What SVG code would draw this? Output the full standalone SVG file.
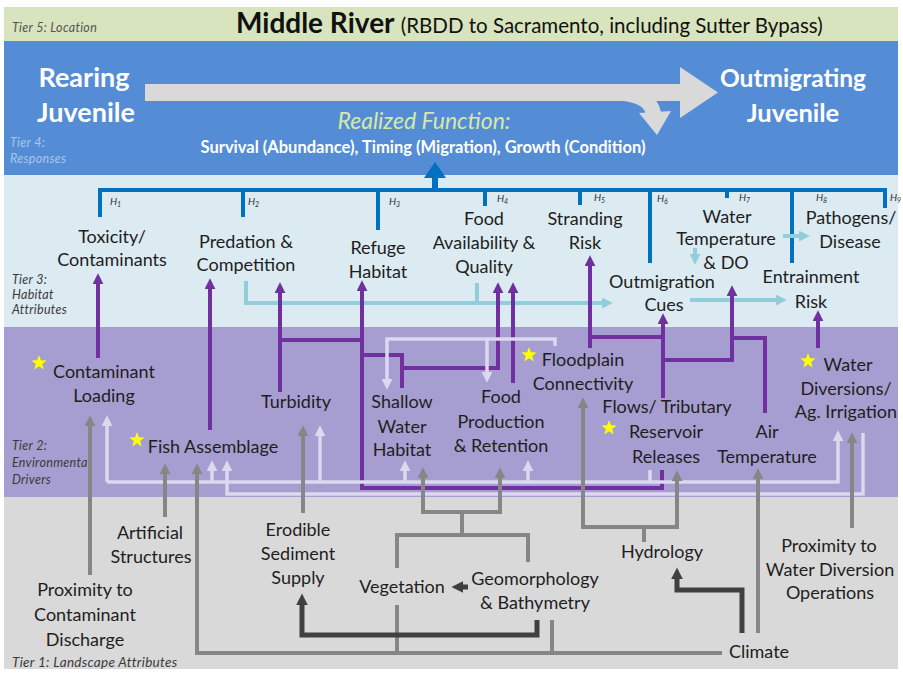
<svg xmlns="http://www.w3.org/2000/svg" width="903" height="673" viewBox="0 0 903 673">
<defs>
<style>
.t{font-family:Lato,"Liberation Sans",sans-serif;font-size:18px;fill:#1e1e1e;text-anchor:middle}
.tier{font-family:Lato,"Liberation Sans",sans-serif;font-size:12.5px;font-style:italic;fill:#3a3a3a;letter-spacing:0.3px}
.h{font-family:Lato,"Liberation Sans",sans-serif;font-size:10px;font-style:italic;fill:#333}
.hb{fill:none;stroke:#0070c0;stroke-width:4}
.pu{fill:none;stroke:#7030a0;stroke-width:4}
.lb{fill:none;stroke:#92cddc;stroke-width:4}
.lv{fill:none;stroke:#ddd8ef;stroke-width:3.5}
.gr{fill:none;stroke:#868686;stroke-width:4}
.dg{fill:none;stroke:#404040;stroke-width:5}
.star{fill:#ffff00}
</style>
<marker id="mpu" viewBox="0 0 10 10" refX="2" refY="5" markerWidth="11" markerHeight="11" markerUnits="userSpaceOnUse" orient="auto"><path d="M0,0L10,5L0,10z" fill="#7030a0"/></marker>
<marker id="mlb" viewBox="0 0 10 10" refX="2" refY="5" markerWidth="11" markerHeight="11" markerUnits="userSpaceOnUse" orient="auto"><path d="M0,0L10,5L0,10z" fill="#92cddc"/></marker>
<marker id="mlv" viewBox="0 0 10 10" refX="2" refY="5" markerWidth="11" markerHeight="11" markerUnits="userSpaceOnUse" orient="auto"><path d="M0,0L10,5L0,10z" fill="#ddd8ef"/></marker>
<marker id="mgr" viewBox="0 0 10 10" refX="2" refY="5" markerWidth="11" markerHeight="11" markerUnits="userSpaceOnUse" orient="auto"><path d="M0,0L10,5L0,10z" fill="#868686"/></marker>
<marker id="mdg" viewBox="0 0 10 10" refX="2" refY="5" markerWidth="12" markerHeight="12" markerUnits="userSpaceOnUse" orient="auto"><path d="M0,0L10,5L0,10z" fill="#404040"/></marker>
<path id="st" d="M0,-8L1.94,-2.67L7.61,-2.47L3.14,1.02L4.7,6.47L0,3.3L-4.7,6.47L-3.14,1.02L-7.61,-2.47L-1.94,-2.67Z"/>
</defs>

<g id="bands">
<rect x="4" y="7" width="894" height="34" fill="#d7e4bd"/>
<rect x="4" y="41" width="894" height="134" fill="#548dd6"/>
<rect x="4" y="175" width="894" height="152" fill="#dceaf2"/>
<rect x="4" y="327" width="894" height="170" fill="#a69ed0"/>
<rect x="4" y="497" width="894" height="172" fill="#d9d9d9"/>
</g>

<g id="tier-labels">
<text class="tier" x="12" y="32" style="fill:#555">Tier 5: Location</text>
<text class="tier" x="10" y="147" style="fill:#a9c5ec">Tier 4:</text>
<text class="tier" x="10" y="163" style="fill:#a9c5ec">Responses</text>
<text class="tier" x="12" y="284">Tier 3:</text>
<text class="tier" x="12" y="299">Habitat</text>
<text class="tier" x="12" y="314">Attributes</text>
<text class="tier" x="12" y="450">Tier 2:</text>
<text class="tier" x="12" y="467">Environmental</text>
<text class="tier" x="12" y="484">Drivers</text>
<text class="tier" x="12" y="667" style="font-size:13.5px">Tier 1: Landscape Attributes</text>
</g>

<g id="title">
<text x="236" y="33" font-family="Lato,'Liberation Sans',sans-serif" font-size="28" font-weight="bold" fill="#111">Middle River <tspan font-weight="normal" font-size="20.5">(RBDD to Sacramento, including Sutter Bypass)</tspan></text>
</g>

<g id="life-stage-arrow">
<rect x="145" y="84" width="537" height="17" fill="#d9d9d9"/>
<polygon points="680,67 718,92.5 680,118" fill="#d9d9d9"/>
<path d="M598,92 C640,92 652,100 654,116" fill="none" stroke="#d9d9d9" stroke-width="15"/>
<polygon points="639,113 671,111 657,135" fill="#d9d9d9"/>
</g>

<g id="rearing-juvenile">
<text x="84" y="87" font-family="Lato,'Liberation Sans',sans-serif" font-size="27" font-weight="bold" fill="#fff" text-anchor="middle">Rearing</text>
<text x="86" y="122" font-family="Lato,'Liberation Sans',sans-serif" font-size="27" font-weight="bold" fill="#fff" text-anchor="middle">Juvenile</text>
</g>
<g id="outmigrating-juvenile">
<text x="793" y="87" font-family="Lato,'Liberation Sans',sans-serif" font-size="24.5" font-weight="bold" fill="#fff" text-anchor="middle">Outmigrating</text>
<text x="793" y="122" font-family="Lato,'Liberation Sans',sans-serif" font-size="25.5" font-weight="bold" fill="#fff" text-anchor="middle">Juvenile</text>
</g>
<g id="realized-function">
<text x="424" y="129" font-family="Lato,'Liberation Sans',sans-serif" font-size="23" font-style="italic" fill="#d6e8a8" text-anchor="middle">Realized Function:</text>
<text x="423" y="153" font-family="Lato,'Liberation Sans',sans-serif" font-size="16.5" font-weight="bold" fill="#fff" text-anchor="middle">Survival (Abundance), Timing (Migration), Growth (Condition)</text>
</g>

<g id="connectors">
<!-- hypothesis bar -->
<path class="hb" d="M100,217V190H885V208"/>
<path class="hb" d="M243,190V217M378,190V230M485,190V206M580,190V205M650,190V263M727,190V198M792,190V263"/>
<path d="M435,190V177" stroke="#0070c0" stroke-width="6"/>
<polygon points="435,162 424,178 446,178" fill="#0070c0"/>
<!-- light blue -->
<path class="lb" d="M246,281V303H604" marker-end="url(#mlb)"/>
<path class="lb" d="M477,283V303"/>
<path class="lb" d="M690,300H778" marker-end="url(#mlb)"/>
<path class="lb" d="M695,248V256" marker-end="url(#mlb)"/>
<path class="lb" d="M783,236H801" marker-end="url(#mlb)"/>
<!-- purple -->
<path class="pu" d="M98,358V282" marker-end="url(#mpu)"/>
<path class="pu" d="M210,430V287" marker-end="url(#mpu)"/>
<path class="pu" d="M280,392V291" marker-end="url(#mpu)"/>
<path class="pu" d="M280,340H362"/>
<path class="pu" d="M662,470V488H362V289" marker-end="url(#mpu)"/>
<path class="pu" d="M362,355H402V388"/>
<path class="pu" d="M402,368H498V291" marker-end="url(#mpu)"/>
<path class="pu" d="M513,383V291" marker-end="url(#mpu)"/>
<path class="pu" d="M590,348V264" marker-end="url(#mpu)"/>
<path class="pu" d="M590,337H663"/>
<path class="pu" d="M663,398V322" marker-end="url(#mpu)"/>
<path class="pu" d="M663,360H732V294" marker-end="url(#mpu)"/>
<path class="pu" d="M732,338H765V413"/>
<path class="pu" d="M818,348V319" marker-end="url(#mpu)"/>
<!-- light lavender -->
<path class="lv" d="M555,346V339H387V381" marker-end="url(#mlv)"/>
<path class="lv" d="M487,339V374" marker-end="url(#mlv)"/>
<path class="lv" d="M107,482H838V439" marker-end="url(#mlv)"/>
<path class="lv" d="M107,482V424" marker-end="url(#mlv)"/>
<path class="lv" d="M212,482V469" marker-end="url(#mlv)"/>
<path class="lv" d="M320,482V434" marker-end="url(#mlv)"/>
<path class="lv" d="M405,482V469" marker-end="url(#mlv)"/>
<path class="lv" d="M528,482V469" marker-end="url(#mlv)"/>
<path class="lv" d="M650,470V482"/>
<path class="lv" d="M863,433V494H227V469" marker-end="url(#mlv)"/>
<!-- gray -->
<path class="gr" d="M90,575V424" marker-end="url(#mgr)"/>
<path class="gr" d="M165,517V472" marker-end="url(#mgr)"/>
<path class="gr" d="M722,653H197V472" marker-end="url(#mgr)"/>
<path class="gr" d="M397,605V653M552,620V653"/>
<path class="gr" d="M303,513V434" marker-end="url(#mgr)"/>
<path class="gr" d="M397,568V535H528V562M462,535V512"/>
<path class="gr" d="M462,512H423V476" marker-end="url(#mgr)"/>
<path class="gr" d="M462,512H500V476" marker-end="url(#mgr)"/>
<path class="gr" d="M644,542V527"/>
<path class="gr" d="M644,527H583V406" marker-end="url(#mgr)"/>
<path class="gr" d="M644,527H677V479" marker-end="url(#mgr)"/>
<path class="gr" d="M758,633V477" marker-end="url(#mgr)"/>
<path class="gr" d="M852,528V441" marker-end="url(#mgr)"/>
<!-- dark gray -->
<path class="dg" d="M537,620V635H302V603" marker-end="url(#mdg)"/>
<path class="dg" d="M742,633V590H677V577" marker-end="url(#mdg)"/>
<path class="dg" d="M468,587H461" marker-end="url(#mdg)"/>
</g>

<g id="h-labels">
<text class="h" x="110" y="205">H<tspan font-size="7" dy="2">1</tspan></text>
<text class="h" x="248" y="205">H<tspan font-size="7" dy="2">2</tspan></text>
<text class="h" x="389" y="205">H<tspan font-size="7" dy="2">3</tspan></text>
<text class="h" x="497" y="202">H<tspan font-size="7" dy="2">4</tspan></text>
<text class="h" x="594" y="201">H<tspan font-size="7" dy="2">5</tspan></text>
<text class="h" x="657" y="202">H<tspan font-size="7" dy="2">6</tspan></text>
<text class="h" x="739" y="201">H<tspan font-size="7" dy="2">7</tspan></text>
<text class="h" x="816" y="201">H<tspan font-size="7" dy="2">8</tspan></text>
<text class="h" x="890" y="201">H<tspan font-size="7" dy="2">9</tspan></text>
</g>

<g id="toxicity"><text class="t" x="112" y="243">Toxicity/</text><text class="t" x="112" y="266">Contaminants</text></g>
<g id="predation"><text class="t" x="246" y="248">Predation &amp;</text><text class="t" x="246" y="271">Competition</text></g>
<g id="refuge"><text class="t" x="378" y="254">Refuge</text><text class="t" x="378" y="278">Habitat</text></g>
<g id="food-availability"><text class="t" x="484" y="225">Food</text><text class="t" x="484" y="249">Availability &amp;</text><text class="t" x="484" y="273">Quality</text></g>
<g id="stranding"><text class="t" x="585" y="225">Stranding</text><text class="t" x="585" y="249">Risk</text></g>
<g id="water-temp-do"><text class="t" x="727" y="223">Water</text><text class="t" x="726" y="245">Temperature</text><text class="t" x="726" y="269">&amp; DO</text></g>
<g id="pathogens"><text class="t" x="851" y="224">Pathogens/</text><text class="t" x="850" y="248">Disease</text></g>
<g id="outmigration-cues"><text class="t" x="662" y="288">Outmigration</text><text class="t" x="664" y="311">Cues</text></g>
<g id="entrainment"><text class="t" x="811" y="283">Entrainment</text><text class="t" x="811" y="308">Risk</text></g>

<g id="contaminant-loading"><use href="#st" class="star" x="39" y="363"/><text class="t" x="104" y="378">Contaminant</text><text class="t" x="104" y="402">Loading</text></g>
<g id="fish-assemblage"><use href="#st" class="star" x="137" y="440"/><text class="t" x="213" y="453">Fish Assemblage</text></g>
<g id="turbidity"><text class="t" x="296" y="408">Turbidity</text></g>
<g id="shallow-water"><text class="t" x="402" y="408">Shallow</text><text class="t" x="402" y="433">Water</text><text class="t" x="402" y="456">Habitat</text></g>
<g id="food-production"><text class="t" x="501" y="403">Food</text><text class="t" x="501" y="428">Production</text><text class="t" x="501" y="452">&amp; Retention</text></g>
<g id="floodplain"><use href="#st" class="star" x="529" y="355"/><text class="t" x="583" y="366">Floodplain</text><text class="t" x="583" y="390">Connectivity</text></g>
<g id="flows-releases"><use href="#st" class="star" x="609" y="428"/><text class="t" x="667" y="413">Flows/ Tributary</text><text class="t" x="666" y="438">Reservoir</text><text class="t" x="666" y="463">Releases</text></g>
<g id="air-temp"><text class="t" x="767" y="438">Air</text><text class="t" x="767" y="463">Temperature</text></g>
<g id="water-diversions"><use href="#st" class="star" x="808" y="361"/><text class="t" x="848" y="371">Water</text><text class="t" x="846" y="395">Diversions/</text><text class="t" x="846" y="418">Ag. Irrigation</text></g>

<g id="artificial-structures"><text class="t" x="150" y="539">Artificial</text><text class="t" x="151" y="563">Structures</text></g>
<g id="erodible-sediment"><text class="t" x="298" y="536">Erodible</text><text class="t" x="298" y="560">Sediment</text><text class="t" x="298" y="584">Supply</text></g>
<g id="vegetation"><text class="t" x="402" y="593">Vegetation</text></g>
<g id="proximity-contaminant"><text class="t" x="85" y="596">Proximity to</text><text class="t" x="85" y="621">Contaminant</text><text class="t" x="85" y="646">Discharge</text></g>
<g id="geomorphology"><text class="t" x="535" y="585">Geomorphology</text><text class="t" x="535" y="609">&amp; Bathymetry</text></g>
<g id="hydrology"><text class="t" x="662" y="558">Hydrology</text></g>
<g id="proximity-diversion"><text class="t" x="829" y="552">Proximity to</text><text class="t" x="830" y="576">Water Diversion</text><text class="t" x="830" y="599">Operations</text></g>
<g id="climate"><text class="t" x="759" y="658">Climate</text></g>
</svg>
